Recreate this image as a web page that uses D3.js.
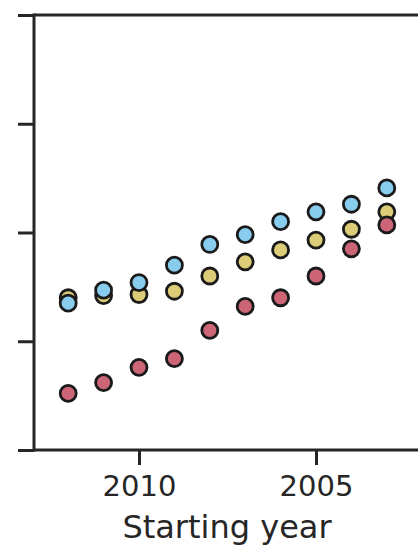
<!DOCTYPE html>
<html><head><meta charset="utf-8">
<script src="https://cdn.jsdelivr.net/npm/d3@7"></script>
<style>body{margin:0;background:#fff}svg{display:block}</style>
</head><body>
<script>
const years = [2012, 2011, 2010, 2009, 2008, 2007, 2006, 2005, 2004, 2003];
const redValues = [0.52, 0.62, 0.76, 0.84, 1.10, 1.32, 1.40, 1.60, 1.85, 2.07];
const yellowValues = [1.40, 1.42, 1.43, 1.46, 1.60, 1.73, 1.84, 1.93, 2.03, 2.19];
const blueValues = [1.35, 1.47, 1.54, 1.70, 1.89, 1.98, 2.10, 2.19, 2.26, 2.41];
const xTicks = [2010, 2005];
const yTicks = [0, 1, 2, 3, 4];
const xLabel = "Starting year";

const series = [
  {name: "yellow", values: yellowValues, color: "#DDCC77"},
  {name: "red", values: redValues, color: "#CC6677"},
  {name: "blue", values: blueValues, color: "#88CCEE"}
];

const W = 418, H = 547;
const svg = d3.select("body").append("svg").attr("width", W).attr("height", H);
const axisColor = "#262626";

const x = d3.scaleLinear().domain([2010, 2005]).range([139, 316]);
const y = d3.scaleLinear().domain([0, 4]).range([450, 15]);

// left axis
const yAxis = svg.append("g").attr("transform", "translate(34,0)")
  .call(d3.axisLeft(y).tickValues(yTicks).tickSize(16).tickFormat(""));
yAxis.select(".domain").remove();
yAxis.selectAll(".tick line").attr("stroke", axisColor).attr("stroke-width", 3);
svg.append("line").attr("x1", 34).attr("x2", 34).attr("y1", y(4) - 1.5).attr("y2", y(0) + 1.5)
  .attr("stroke", axisColor).attr("stroke-width", 3);
// top spine
svg.append("line").attr("x1", 34).attr("x2", W).attr("y1", y(4)).attr("y2", y(4))
  .attr("stroke", axisColor).attr("stroke-width", 3);

// bottom axis
const xAxis = svg.append("g").attr("transform", "translate(0,450)")
  .call(d3.axisBottom(x).tickValues(xTicks).tickSize(15).tickPadding(10).tickFormat(d3.format("d")));
xAxis.select(".domain").remove();
xAxis.selectAll(".tick line").attr("stroke", axisColor).attr("stroke-width", 3);
xAxis.selectAll(".tick text").attr("fill", axisColor)
  .style("font-family", "DejaVu Sans").style("font-size", "29px");
svg.append("line").attr("x1", 34).attr("x2", W).attr("y1", 450).attr("y2", 450)
  .attr("stroke", axisColor).attr("stroke-width", 3);

svg.append("text").attr("x", 227).attr("y", 538).attr("text-anchor", "middle")
  .attr("fill", axisColor).style("font-family", "DejaVu Sans").style("font-size", "32px")
  .text(xLabel);

// points
series.forEach(s => {
  svg.append("g").selectAll("circle").data(years.map((yr, i) => ({yr, v: s.values[i]})))
    .join("circle")
    .attr("cx", d => x(d.yr)).attr("cy", d => y(d.v)).attr("r", 8)
    .attr("fill", s.color).attr("stroke", "#1a1a1a").attr("stroke-width", 2.8);
});
</script>
</body></html>
